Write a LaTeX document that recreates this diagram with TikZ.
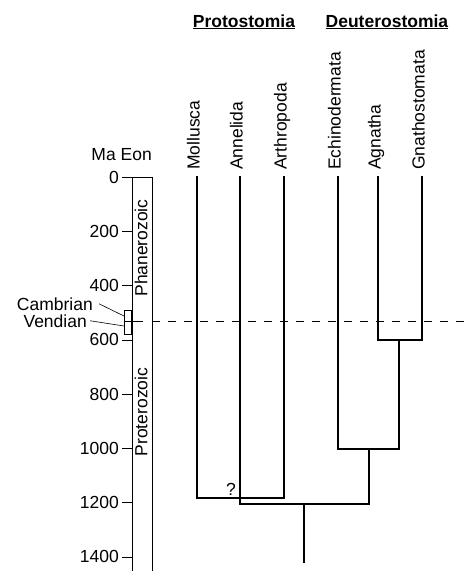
\documentclass[tikz,border=0pt]{standalone}
\usepackage{fontspec}
\setmainfont{Liberation Sans}

\tikzset{
  taxon/.style={rotate=90,anchor=mid west,inner sep=0pt},
  tree/.style={line width=1.1pt},
  thin/.style={line width=0.6pt}
}

\begin{document}
\begin{tikzpicture}[x=1pt,y=-1pt,every node/.style={font=\fontsize{17.5}{20}\selectfont}]
  \useasboundingbox (0,0) rectangle (466,571);
  % time axis and eon column
  \node[anchor=base east,inner sep=0pt] (head) at (152,160) {Ma Eon};
  \foreach \ma in {0,200,...,1400} {
    \pgfmathsetmacro\yy{177+0.2714*\ma}
    \draw[thin] (122,\yy) -- (132,\yy);
    \node[anchor=east,inner sep=0pt] (t\ma) at (119,\yy) {\ma};
  }
  \draw[thin] (132,575) -- (132,177) -- (152,177) -- (152,575);
  \draw[thin] (124,321) -- (143,321);
  \draw[thin,dash pattern=on 8pt off 8pt] (152,321) -- (466,321);
  \node[rotate=90,inner sep=0pt] (phan) at (141,248) {Phanerozoic};
  \node[rotate=90,inner sep=0pt] (prot) at (141,412) {Proterozoic};
  % Cambrian / Vendian
  \node[draw,thin,minimum width=7pt,minimum height=24pt,inner sep=0pt] (cv) at (127.5,322) {};
  \node[anchor=base east,inner sep=0pt] (camb) at (93,310) {Cambrian};
  \node[anchor=base east,inner sep=0pt] (vend) at (87,327) {Vendian};
  \coordinate (cambpt) at (124,316);
  \coordinate (vendpt) at (124,326);
  \draw[thin] ([xshift=6pt]camb.east) -- (cambpt);
  \draw[thin] ([xshift=3pt]vend.east) -- (vendpt);
  % group headings
  \node[anchor=base,inner sep=0pt] (pro) at (244,27) {\underline{\textbf{Protostomia}}};
  \node[anchor=base,inner sep=0pt] (deu) at (387,27) {\underline{\textbf{Deuterostomia}}};
  % taxa
  \node[taxon] (moll) at (197,170) {Mollusca};
  \node[taxon] (anne) at (240,170) {Annelida};
  \node[taxon] (arth) at (284,170) {Arthropoda};
  \node[taxon] (echi) at (338,170) {Echinodermata};
  \node[taxon] (agna) at (378,170) {Agnatha};
  \node[taxon] (gnat) at (422,170) {Gnathostomata};
  % branch points
  \coordinate (ma) at (240,498);
  \coordinate (bil) at (304,504);
  \coordinate (bilbase) at (304,563);
  \coordinate (dnode) at (369,449);
  \coordinate (vnode) at (399,340);
  \draw[tree,shorten <=6pt,shorten >=6pt] (moll.mid west) |- (ma) -| (arth.mid west);
  \draw[tree,shorten <=6pt] (anne.mid west) |- (bil) -| (dnode);
  \draw[tree] (bil) -- (bilbase);
  \draw[tree,shorten <=6pt] (echi.mid west) |- (dnode) -| (vnode);
  \draw[tree,shorten <=6pt,shorten >=6pt] (agna.mid west) |- (vnode) -| (gnat.mid west);
  \node[inner sep=0pt] (q) at (231,489) {?};
\end{tikzpicture}
\end{document}
